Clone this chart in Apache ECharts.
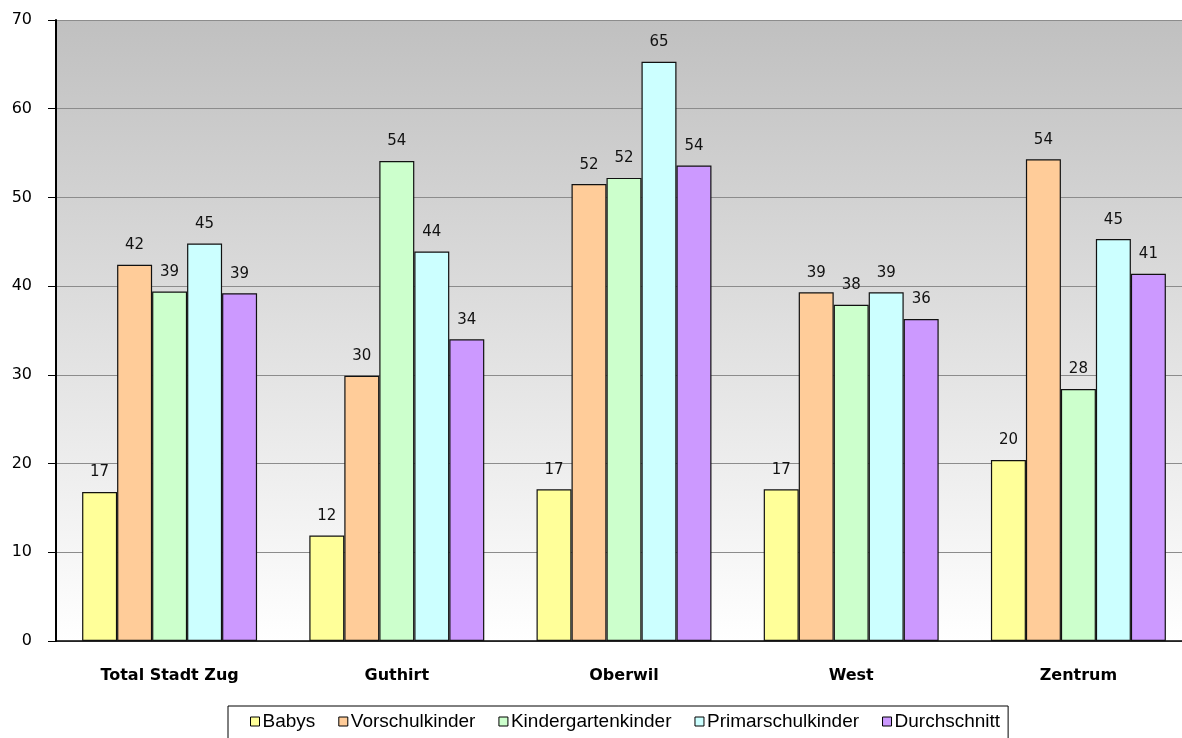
<!DOCTYPE html>
<html>
<head>
<meta charset="utf-8">
<script src="https://cdn.jsdelivr.net/npm/echarts@6/dist/echarts.min.js"></script>
<style>
  html, body { margin: 0; padding: 0; background: #fff; overflow: hidden; }
  /* Plot runs past the right edge of the window, as in the original */
  #chart { width: 1192px; height: 738px; }
</style>
</head>
<body>
<div id="chart"></div>
<script>
// Bezirke
const categories = ['Total Stadt Zug', 'Guthirt', 'Oberwil', 'West', 'Zentrum'];

// Werte je Gruppe
const babys = [16.8, 11.9, 17.1, 17.1, 20.4];
const vorschulkinder = [42.4, 29.9, 51.5, 39.3, 54.3];
const kindergartenkinder = [39.4, 54.1, 52.2, 37.9, 28.4];
const primarschulkinder = [44.8, 43.9, 65.3, 39.3, 45.3];
const durchschnitt = [39.2, 34.0, 53.6, 36.3, 41.4];

const seriesNames = ['Babys', 'Vorschulkinder', 'Kindergartenkinder', 'Primarschulkinder', 'Durchschnitt'];
const seriesData = [babys, vorschulkinder, kindergartenkinder, primarschulkinder, durchschnitt];
const colors = ['#ffff99', '#ffcc99', '#ccffcc', '#ccffff', '#cc99ff'];

let chart = echarts.init(document.getElementById('chart'));

let series = [];
for (let i = 0; i < seriesNames.length; i++) {
    series.push({
        name: seriesNames[i],
        type: 'bar',
        data: seriesData[i],
        barGap: '0%',
        barCategoryGap: '23%',
        itemStyle: {color: colors[i], borderColor: '#111', borderWidth: 1.2},
        label: {
            show: true,
            position: 'top',
            distance: 12,
            color: '#111',
            fontFamily: 'DejaVu Sans',
            fontSize: 15,
            formatter: p => Math.round(p.value)
        }
    });
}

let option = {
    animation: false,
    color: colors,
    grid: {
        left: 56,
        right: 0,
        top: 20,
        bottom: 97,
        show: true,
        borderWidth: 0,
        backgroundColor: {
            type: 'linear', x: 0, y: 0, x2: 0, y2: 1,
            colorStops: [{offset: 0, color: '#c0c0c0'}, {offset: 1, color: '#ffffff'}]
        }
    },
    legend: {
        left: 228,
        top: 706,
        padding: [6, 8, 10, 22],
        borderColor: '#000',
        borderWidth: 1,
        itemWidth: 9,
        itemHeight: 9,
        itemGap: 23,
        icon: 'rect',
        itemStyle: {borderColor: '#000', borderWidth: 1},
        textStyle: {fontFamily: 'Liberation Sans', fontSize: 19, color: '#000', padding: [0, 0, 0, -2]}
    },
    xAxis: {
        type: 'category',
        data: categories,
        axisLine: {lineStyle: {color: '#000', width: 1.5}},
        axisTick: {length: 6, lineStyle: {color: '#000'}},
        axisLabel: {
            margin: 27,
            color: '#000',
            fontFamily: 'DejaVu Sans',
            fontWeight: 'bold',
            fontSize: 16
        }
    },
    yAxis: {
        type: 'value',
        min: 0,
        max: 70,
        interval: 10,
        axisLine: {show: true, lineStyle: {color: '#000', width: 2}},
        axisTick: {show: true, length: 8, lineStyle: {color: '#000'}},
        axisLabel: {margin: 24, color: '#000', fontFamily: 'DejaVu Sans', fontSize: 16},
        splitLine: {lineStyle: {color: '#8c8c8c', width: 1}}
    },
    series: series
};

chart.setOption(option);
</script>
</body>
</html>
